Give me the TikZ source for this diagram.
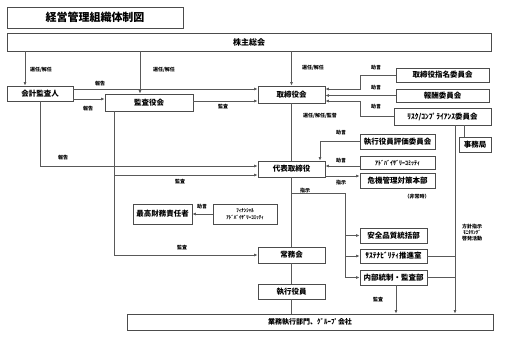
\documentclass[tikz,border=0pt]{standalone}
\usepackage{fontspec}
\setmainfont{Noto Sans CJK JP}
\usepackage{tikz}
\usetikzlibrary{arrows.meta}
\tikzset{
	bx/.style={draw=black!70,line width=0.8pt,fill=white,inner sep=0pt,
		font=\fontsize{7.5}{9}\selectfont\bfseries},
	ln/.style={draw=black!65,line width=0.7pt},
	arr/.style={ln,-{Latex[length=3.5pt,width=3pt]}},
	lbl/.style={inner sep=0pt,font=\fontsize{5}{6}\selectfont\bfseries}
}

\begin{document}
\begin{tikzpicture}[x=1pt,y=-1pt,
			wide/.style={bx,minimum width=67pt,minimum height=16pt},
			cmte/.style={bx,minimum width=75pt,minimum height=14pt},
			dept/.style={bx,minimum width=67pt,minimum height=15pt}]
			\useasboundingbox (0,0) rectangle (507,339);
			\node[bx,minimum width=176pt,minimum height=21pt,font=\fontsize{11}{13}\selectfont\bfseries]
				(title) at (95,17.5) {経営管理組織体制図};
			\node[bx,minimum width=484pt,minimum height=18pt,font=\fontsize{8}{10}\selectfont\bfseries]
				(kabu) at (249,42) {株主総会};
			\node[bx,minimum width=66pt,minimum height=15pt] (kaikei) at (40,93.5) {会計監査人};
			\node[bx,minimum width=88pt,minimum height=17pt] (kansa) at (149,102.5) {監査役会};
			\node[wide,minimum height=17pt] (tori) at (291.5,94.5) {取締役会};
			\node[bx,minimum width=93pt,minimum height=14pt] (shimei) at (442.5,75) {取締役指名委員会};
			\node[bx,minimum width=93pt,minimum height=13pt] (houshu) at (442.5,95.5) {報酬委員会};
			\node[bx,minimum width=97pt,minimum height=17pt] (risk) at (442.5,116.5) {ﾘｽｸ/ｺﾝﾌﾟﾗｲｱﾝｽ委員会};
			\node[bx,minimum width=32pt,minimum height=15pt] (jimu) at (475,144.5) {事務局};
			\node[cmte,minimum height=15pt] (hyoka) at (397.5,141.5) {執行役員評価委員会};
			\node[cmte,minimum height=13pt,font=\fontsize{6}{7}\selectfont\bfseries] (adv) at (397.5,163) {ｱﾄﾞﾊﾞｲｻﾞﾘｰｺﾐｯﾃｨ};
			\node[cmte,minimum height=15pt] (kiki) at (397.5,180.5) {危機管理対策本部};
			\node[wide] (dai) at (291.5,169) {代表取締役};
			\node[bx,minimum width=59pt,minimum height=20pt] (cfo) at (162.5,214) {最高財務責任者};
			\node[bx,minimum width=64pt,minimum height=20pt,align=center,
				font=\fontsize{5}{7}\selectfont\bfseries] (fac) at (245,214) {ﾌｨﾅﾝｼｬﾙ\\ｱﾄﾞﾊﾞｲｻﾞﾘｰｺﾐｯﾃｨ};
			\node[wide] (jomu) at (291.5,255) {常務会};
			\node[wide,minimum height=15pt] (shikko) at (291.5,291.5) {執行役員};
			\node[dept] (anzen) at (393.5,235.5) {安全品質統括部};
			\node[dept,minimum height=14pt] (sus) at (393.5,256) {ｻｽﾃﾅﾋﾞﾘﾃｨ推進室};
			\node[dept] (naibu) at (393.5,277.5) {内部統制・監査部};
			\node[bx,minimum width=366pt,minimum height=16pt,font=\fontsize{7}{9}\selectfont\bfseries]
				(gyomu) at (310,322) {業務執行部門、ｸﾞﾙｰﾌﾟ会社};
			\foreach \p/\t [count=\i] in {(41,70)/{選任/解任},(164,70)/{選任/解任},(313,68)/{選任/解任},
				(100,84)/報告,(88,109)/報告,(223,107)/監査,(63,158)/報告,(180,182)/監査,(182,248)/監査,
				(376,68)/助言,(376,88)/助言,(376,107)/助言,(320,116)/{選任/解任/監督},(341,133)/助言,
				(341,161)/助言,(341,183)/指示,(305,191)/指示,(202,207)/助言,(378,300)/監査}
			\node[lbl] (l\i) at \p {\t};
			\node[lbl] (hijo) at (417,197) {（非常時）};
			\node[lbl,align=center] (hoshin) at (472,233) {方針指示\\ﾓﾆﾀﾘﾝｸﾞ\\啓発活動};
			\coordinate (cA) at (25,0);
			\coordinate (cB) at (140,0);
			\coordinate (kx) at (114,0);
			\coordinate (mx) at (360,0);
			\coordinate (sx) at (345,0);
			\coordinate (rx) at (455,0);
			\coordinate (br) at ([yshift=-16pt]dai.south);
			\draw[arr] (kabu.south -| cA) -- (kaikei.north -| cA);
			\draw[arr] (kabu.south -| cB) -- (kansa.north -| cB);
			\draw[arr] (kabu.south -| tori.north) -- (tori.north);
			\draw[arr] ([yshift=4.5pt]kaikei.east) -- ([yshift=4.5pt]kaikei.east -| tori.west);
			\draw[arr] ([yshift=-5.5pt]kaikei.east) -- ([yshift=-5.5pt]kaikei.east -| kansa.west);
			\draw[arr] ([yshift=1.5pt]kansa.east) -- ([yshift=1.5pt]kansa.east -| tori.west);
			\draw[arr] (kaikei.south) |- ([yshift=3pt]dai.west);
			\draw[arr] (kansa.south -| kx) |- ([yshift=-6pt]dai.west);
			\draw[arr] (kansa.south -| kx) |- (jomu.west);
			\draw[ln] (tori.south) -- (dai.north);
			\draw[ln] (dai.south) -- (jomu.north);
			\draw[ln] (jomu.south) -- (shikko.north);
			\draw[ln] (shikko.south) -- (gyomu.north -| shikko.south);
			\draw[arr] (shimei.west) -- (shimei.west -| mx) |- ([yshift=5.5pt]tori.east);
			\draw[arr] (houshu.west) -- (houshu.west -| tori.east);
			\draw[arr] (risk.west) -- (risk.west -| mx) |- ([yshift=-6.5pt]tori.east);
			\draw[arr] (hyoka.west) -| ([xshift=28.5pt]dai.north);
			\draw[arr] ([yshift=-3pt]adv.west) -- ([yshift=-3pt]adv.west -| dai.east);
			\draw[arr] ([yshift=-7pt]dai.east) -- ([yshift=-7pt]dai.east -| kiki.west);
			\draw[arr] (br) -| (naibu.west -| sx) -- (naibu.west);
			\draw[arr] (anzen.west -| sx) -- (anzen.west);
			\draw[arr] (sus.west -| sx) -- (sus.west);
			\draw[arr] ([xshift=2.5pt]naibu.south) -- ([xshift=2.5pt]naibu.south |- gyomu.north);
			\draw[ln] ([xshift=-11pt]jimu.north |- risk.south) -- ([xshift=-11pt]jimu.north);
			\draw[arr] (risk.south -| rx) -- (gyomu.north -| rx);
			\draw[ln] (sus.east) -- (sus.east -| rx);
			\draw[ln] (naibu.east) -- (naibu.east -| rx);
			\draw[arr] (fac.west) -- (cfo.east);
		\end{tikzpicture}
\end{document}
